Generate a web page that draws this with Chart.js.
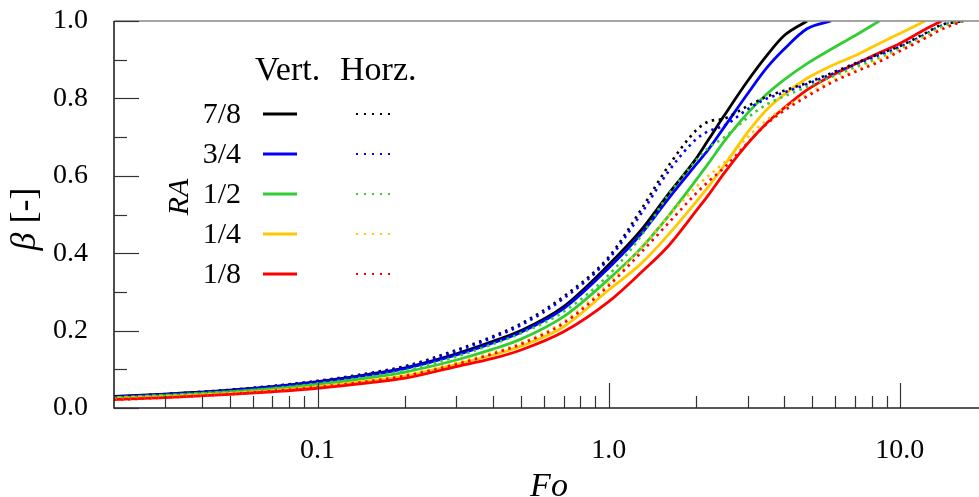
<!DOCTYPE html>
<html><head><meta charset="utf-8">
<script src="https://cdn.jsdelivr.net/npm/chart.js@4.4.0/dist/chart.umd.min.js"></script>
<style>html,body{margin:0;padding:0;background:#fff;overflow:hidden}#wrap{width:979px;height:497px;position:relative}</style>
</head><body><div id="wrap"><canvas id="c" width="979" height="497"></canvas></div>
<script>
// ---- data ----
const FO = [0.02,0.03,0.05,0.07,0.1,0.15,0.2,0.3,0.4,0.5,0.7,1.0,1.3,1.6,2.0,2.2,2.5,3.0,3.5,4.0,4.8,5.8,7.0,8.5,10,12.2,13.9,16.5];
const RA_LABELS = ['7/8','3/4','1/2','1/4','1/8'];
const COLORS = ['#000000','#0000ff','#33cc33','#ffc800','#ff0000'];
// Vertical (solid)
const VERT_78 = [0.030,0.036,0.046,0.055,0.068,0.087,0.104,0.140,0.172,0.200,0.262,0.370,0.462,0.552,0.645,0.693,0.757,0.845,0.912,0.962,1.0,null,null,null,null,null,null,null];
const VERT_34 = [0.029,0.035,0.045,0.054,0.066,0.085,0.102,0.137,0.168,0.196,0.257,0.362,0.452,0.540,0.630,0.668,0.727,0.812,0.880,0.927,0.980,1.0,null,null,null,null,null,null];
const VERT_12 = [0.027,0.033,0.042,0.050,0.061,0.078,0.093,0.124,0.152,0.178,0.236,0.333,0.415,0.495,0.590,0.632,0.690,0.762,0.812,0.848,0.890,0.927,0.962,1.0,null,null,null,null];
const VERT_14 = [0.025,0.030,0.038,0.045,0.055,0.070,0.083,0.113,0.137,0.160,0.210,0.305,0.375,0.447,0.533,0.572,0.628,0.712,0.772,0.810,0.852,0.884,0.910,0.942,0.968,1.0,null,null];
const VERT_18 = [0.022,0.027,0.035,0.042,0.051,0.065,0.077,0.107,0.128,0.150,0.197,0.275,0.352,0.418,0.510,0.550,0.608,0.683,0.737,0.775,0.822,0.858,0.888,0.918,0.942,0.978,1.0,null];
// Horizontal (dotted)
const HORZ_78 = [0.029,0.036,0.047,0.057,0.070,0.090,0.108,0.150,0.185,0.218,0.288,0.390,0.516,0.624,0.718,0.740,0.748,0.780,0.805,0.820,0.840,0.865,0.890,0.915,0.935,0.968,0.990,1.0];
const HORZ_34 = [0.028,0.035,0.046,0.056,0.069,0.088,0.106,0.147,0.182,0.214,0.283,0.385,0.505,0.610,0.695,0.715,0.730,0.772,0.800,0.815,0.837,0.862,0.887,0.912,0.933,0.965,0.988,1.0];
const HORZ_12 = [0.026,0.032,0.042,0.051,0.063,0.081,0.097,0.133,0.165,0.193,0.249,0.344,0.447,0.550,0.640,0.672,0.700,0.750,0.785,0.805,0.830,0.855,0.880,0.905,0.928,0.962,0.985,1.0];
const HORZ_14 = [0.022,0.028,0.037,0.045,0.055,0.071,0.085,0.117,0.143,0.168,0.223,0.322,0.417,0.494,0.572,0.600,0.635,0.700,0.745,0.775,0.810,0.845,0.872,0.900,0.925,0.958,0.980,1.0];
const HORZ_18 = [0.021,0.027,0.036,0.044,0.054,0.069,0.083,0.113,0.140,0.165,0.219,0.316,0.404,0.477,0.555,0.585,0.622,0.685,0.735,0.768,0.805,0.840,0.868,0.895,0.922,0.955,0.978,1.0];
const VERT = [VERT_78,VERT_34,VERT_12,VERT_14,VERT_18];
const HORZ = [HORZ_78,HORZ_34,HORZ_12,HORZ_14,HORZ_18];
// ticks
const X_MAJOR = [0.1,1,10];
const X_MAJOR_LABELS = ['0.1','1.0','10.0'];
const X_MINOR = [0.03,0.04,0.05,0.06,0.07,0.08,0.09,0.2,0.3,0.4,0.5,0.6,0.7,0.8,0.9,2,3,4,5,6,7,8,9];
const Y_MAJOR = [0,0.2,0.4,0.6,0.8,1.0];
const Y_MINOR = [0.1,0.3,0.5,0.7,0.9];
const X_MIN = 0.02, X_MAX = 18.7;

const SERIF = '"Liberation Serif","Times New Roman",serif';
const pts = arr => FO.map((f,i)=>({x:f,y:arr[i]}));

const datasets = [];
VERT.forEach((arr,k)=>datasets.push({label:'Vert. '+RA_LABELS[k],data:pts(arr),borderColor:COLORS[k],borderWidth:2.8,pointRadius:0,fill:false,cubicInterpolationMode:'monotone',spanGaps:false,order:20-k}));
HORZ.forEach((arr,k)=>datasets.push({label:'Horz. '+RA_LABELS[k],data:pts(arr),borderColor:COLORS[k],borderWidth:2.6,borderDash:[2.5,4.5],pointRadius:0,fill:false,cubicInterpolationMode:'monotone',spanGaps:false,order:10-k}));

const framePlugin = {
  id:'frame',
  afterDatasetsDraw(chart){
    const {ctx,chartArea:a,scales:{x,y}} = chart;
    ctx.save();
    ctx.strokeStyle='#888'; ctx.lineWidth=1.5;
    ctx.beginPath(); ctx.moveTo(a.left,a.top); ctx.lineTo(a.right,a.top); ctx.stroke();
    ctx.strokeStyle='#222'; ctx.lineWidth=1.6;
    ctx.beginPath(); ctx.moveTo(a.left,a.top); ctx.lineTo(a.left,a.bottom); ctx.lineTo(a.right,a.bottom); ctx.stroke();
    ctx.lineWidth=1.2; ctx.strokeStyle='#333';
    Y_MAJOR.forEach(v=>{const py=Math.round(y.getPixelForValue(v))+0.5;ctx.beginPath();ctx.moveTo(a.left,py);ctx.lineTo(a.left+25,py);ctx.stroke();});
    Y_MINOR.forEach(v=>{const py=Math.round(y.getPixelForValue(v))+0.5;ctx.beginPath();ctx.moveTo(a.left,py);ctx.lineTo(a.left+13,py);ctx.stroke();});
    X_MAJOR.forEach(v=>{const px=Math.round(x.getPixelForValue(v))+0.5;ctx.beginPath();ctx.moveTo(px,a.bottom);ctx.lineTo(px,a.bottom-25);ctx.stroke();});
    X_MINOR.forEach(v=>{const px=Math.round(x.getPixelForValue(v))+0.5;ctx.beginPath();ctx.moveTo(px,a.bottom);ctx.lineTo(px,a.bottom-12);ctx.stroke();});
    ctx.restore();
  },
  afterDraw(chart){
    const {ctx,chartArea:a} = chart;
    ctx.save();
    ctx.fillStyle='#000';
    // x title
    ctx.font='italic 34px '+SERIF; ctx.textAlign='center'; ctx.textBaseline='alphabetic';
    ctx.fillText('Fo',549,496);
    // y title (rotated)
    ctx.save();
    ctx.translate(35,219); ctx.rotate(-Math.PI/2);
    ctx.font='italic 36px '+SERIF; const w1=ctx.measureText('\u03B2').width;
    ctx.font='36px '+SERIF; const w2=ctx.measureText(' [-]').width;
    let sx=-(w1+w2)/2;
    ctx.textAlign='left';
    ctx.font='italic 36px '+SERIF; ctx.fillText('\u03B2',sx,0);
    ctx.font='36px '+SERIF; ctx.fillText(' [-]',sx+w1,0);
    ctx.restore();
    // legend
    ctx.font='34px '+SERIF; ctx.textAlign='left';
    ctx.fillText('Vert.',255,80);
    ctx.fillText('Horz.',340,80);
    ctx.font='30px '+SERIF; ctx.textAlign='right';
    RA_LABELS.forEach((lab,k)=>{
      const cy=114+40*k;
      ctx.fillStyle='#000'; ctx.fillText(lab,241,cy+9);
      ctx.strokeStyle=COLORS[k]; ctx.lineWidth=2.8; ctx.setLineDash([]);
      ctx.beginPath(); ctx.moveTo(263,cy); ctx.lineTo(297,cy); ctx.stroke();
      ctx.lineWidth=2.2; ctx.setLineDash([2,6]);
      ctx.beginPath(); ctx.moveTo(356,cy); ctx.lineTo(392,cy); ctx.stroke();
    });
    ctx.setLineDash([]);
    ctx.save();
    ctx.translate(188,197); ctx.rotate(-Math.PI/2);
    ctx.font='italic 30px '+SERIF; ctx.textAlign='center'; ctx.fillStyle='#000';
    ctx.fillText('RA',0,0);
    ctx.restore();
    ctx.restore();
  }
};

new Chart(document.getElementById('c'),{
  type:'line',
  data:{datasets},
  options:{
    responsive:false, animation:false, devicePixelRatio:1,
    layout:{padding:{top:21,right:0,bottom:0,left:53}},
    plugins:{legend:{display:false},tooltip:{enabled:false},title:{display:false}},
    elements:{line:{borderCapStyle:'butt'}},
    scales:{
      x:{type:'logarithmic',min:X_MIN,max:X_MAX,position:'bottom',
        grid:{display:false,drawTicks:false},border:{display:false},
        afterBuildTicks:s=>{s.ticks=X_MAJOR.map(v=>({value:v}));},
        ticks:{autoSkip:false,maxRotation:0,padding:26,color:'#000',font:{family:SERIF,size:28},
          callback:(v)=>{const i=X_MAJOR.findIndex(m=>Math.abs(m-v)<1e-9);return i>=0?X_MAJOR_LABELS[i]:'';}},
        afterFit:s=>{s.height=89;}
      },
      y:{type:'linear',min:0,max:1,
        grid:{display:false,drawTicks:false},border:{display:false},
        afterBuildTicks:s=>{s.ticks=Y_MAJOR.map(v=>({value:v}));},
        ticks:{padding:0,crossAlign:'far',color:'#000',font:{family:SERIF,size:28},callback:v=>Number(v).toFixed(1)},
        afterFit:s=>{s.width=61;}
      }
    }
  },
  plugins:[framePlugin]
});
</script></body></html>
